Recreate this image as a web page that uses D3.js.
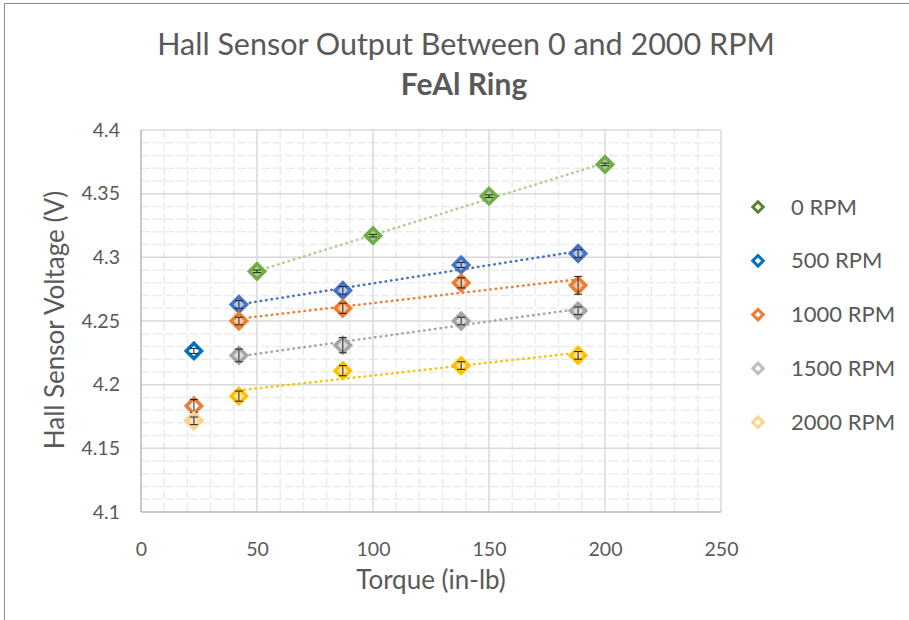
<!DOCTYPE html>
<html>
<head>
<meta charset="utf-8">
<script src="https://cdn.jsdelivr.net/npm/d3@7"></script>
<style>
  body { margin: 0; background: #fff; }
  svg text { font-family: Lato, "Open Sans", sans-serif; fill: #595959; }
</style>
</head>
<body>
<svg id="chart" width="909" height="620"></svg>
<script>
// Torque values (in-lb)
const torqueMain = [42.2, 87, 138, 188.4];
const torqueZero = [50, 100, 150, 200];
const torqueLow = 22.8;

// Hall sensor voltages
const rpm0 = [4.289, 4.317, 4.348, 4.373];
const rpm500 = [4.263, 4.274, 4.294, 4.303];
const rpm1000 = [4.250, 4.260, 4.280, 4.278];
const rpm1500 = [4.223, 4.231, 4.250, 4.258];
const rpm2000 = [4.191, 4.211, 4.215, 4.223];

// error bar half-heights
const err0 = [0.001, 0.001, 0.001, 0.001];
const err500 = [0.003, 0.003, 0.002, 0.003];
const err1000 = [0.003, 0.004, 0.004, 0.007];
const err1500 = [0.005, 0.006, 0.003, 0.003];
const err2000 = [0.004, 0.004, 0.003, 0.003];

// single low-torque readings (legend series)
const lowNames = ["0 RPM", "500 RPM", "1000 RPM", "1500 RPM", "2000 RPM"];
const lowValues = [null, 4.2265, 4.1833, 4.172, 4.1716];
const lowErrors = [0, 0.002, 0.005, 0.002, 0.003];

const xTicks = [0, 50, 100, 150, 200, 250];
const yTicks = [4.1, 4.15, 4.2, 4.25, 4.3, 4.35, 4.4];

const svg = d3.select("#chart");

// chart frame
svg.append("rect")
    .attr("x", 4.5).attr("y", 3.5)
    .attr("width", 920).attr("height", 640)
    .attr("fill", "none")
    .attr("stroke", "#8c8c8c");

const x = d3.scaleLinear().domain([0, 250]).range([141, 721]);
const y = d3.scaleLinear().domain([4.1, 4.4]).range([512, 130]);

// minor grid
svg.append("g").selectAll("line")
    .data(d3.range(0, 251, 10).filter(v => v % 50 !== 0))
    .join("line")
    .attr("x1", d => x(d)).attr("x2", d => x(d))
    .attr("y1", y(4.4)).attr("y2", y(4.1))
    .attr("stroke", "#ebebeb").attr("stroke-width", 1.5)
    .attr("stroke-dasharray", "9,3");

svg.append("g").selectAll("line")
    .data(d3.range(0, 31).map(i => 4.1 + i * 0.01).filter(v => Math.round(v * 100) % 5 !== 0))
    .join("line")
    .attr("x1", x(0)).attr("x2", x(250))
    .attr("y1", d => y(d)).attr("y2", d => y(d))
    .attr("stroke", "#ebebeb").attr("stroke-width", 1.5)
    .attr("stroke-dasharray", "9,3");

// major grid
svg.append("g").selectAll("line")
    .data(xTicks)
    .join("line")
    .attr("x1", d => x(d)).attr("x2", d => x(d))
    .attr("y1", y(4.4)).attr("y2", y(4.1))
    .attr("stroke", "#d9d9d9").attr("stroke-width", 1.5);

svg.append("g").selectAll("line")
    .data(yTicks)
    .join("line")
    .attr("x1", x(0)).attr("x2", x(250))
    .attr("y1", d => y(d)).attr("y2", d => y(d))
    .attr("stroke", "#d9d9d9").attr("stroke-width", 1.5);

// axis lines
svg.append("line")
    .attr("x1", x(0)).attr("x2", x(0)).attr("y1", y(4.4)).attr("y2", y(4.1))
    .attr("stroke", "#bfbfbf").attr("stroke-width", 1.5);
svg.append("line")
    .attr("x1", x(0)).attr("x2", x(250)).attr("y1", y(4.1)).attr("y2", y(4.1))
    .attr("stroke", "#bfbfbf").attr("stroke-width", 1.5);

// axes labels through d3 axes (no domain, no ticks)
const xAxis = svg.append("g")
    .attr("transform", `translate(0, ${y(4.1)})`)
    .call(d3.axisBottom(x).tickValues(xTicks).tickSize(0).tickPadding(30));
const yAxis = svg.append("g")
    .attr("transform", `translate(${x(0)}, 0)`)
    .call(d3.axisLeft(y).tickValues(yTicks).tickSize(0).tickPadding(21).tickFormat(d3.format("")));
[xAxis, yAxis].forEach(g => {
    g.select(".domain").remove();
    g.selectAll("text")
        .attr("font-family", "Lato, 'Open Sans', sans-serif")
        .attr("font-size", 19.5)
        .attr("fill", "#595959");
});

// titles
svg.append("text")
    .attr("x", 466).attr("y", 55)
    .attr("text-anchor", "middle")
    .attr("font-size", 30.5)
    .text("Hall Sensor Output Between 0 and 2000 RPM");
svg.append("text")
    .attr("x", 464).attr("y", 95)
    .attr("text-anchor", "middle")
    .attr("font-size", 30)
    .attr("font-weight", "bold")
    .text("FeAl Ring");

svg.append("text")
    .attr("x", 431).attr("y", 589)
    .attr("text-anchor", "middle")
    .attr("font-size", 26)
    .text("Torque (in-lb)");
svg.append("text")
    .attr("transform", "translate(64, 320) rotate(-90)")
    .attr("text-anchor", "middle")
    .attr("font-size", 26)
    .text("Hall Sensor Voltage (V)");

// series with trendlines
const series = [
    { xs: torqueZero, ys: rpm0, errs: err0, color: "#70ad47", fill: "#a9d18e", trend: "#a9d18e" },
    { xs: torqueMain, ys: rpm500, errs: err500, color: "#4472c4", fill: "#b4c7e7", trend: "#4472c4" },
    { xs: torqueMain, ys: rpm1000, errs: err1000, color: "#ed7d31", fill: "#f8cbad", trend: "#ed7d31" },
    { xs: torqueMain, ys: rpm1500, errs: err1500, color: "#a5a5a5", fill: "#dbdbdb", trend: "#a5a5a5" },
    { xs: torqueMain, ys: rpm2000, errs: err2000, color: "#ffc000", fill: "#ffe699", trend: "#ffc000" }
];

function linearFit(xs, ys) {
    const mx = d3.mean(xs), my = d3.mean(ys);
    const num = d3.sum(xs, (v, i) => (v - mx) * (ys[i] - my));
    const den = d3.sum(xs, v => (v - mx) * (v - mx));
    const b = num / den;
    return v => my + b * (v - mx);
}

const diamond = d3.symbol().type(d3.symbolDiamond2).size(150);

function drawPoint(g, px, py, err, stroke, fill) {
    g.append("path")
        .attr("transform", `translate(${x(px)}, ${y(py)})`)
        .attr("d", diamond())
        .attr("fill", fill)
        .attr("stroke", stroke)
        .attr("stroke-width", 3.5);
    if (err > 0) {
        g.append("line")
            .attr("x1", x(px)).attr("x2", x(px))
            .attr("y1", y(py - err)).attr("y2", y(py + err))
            .attr("stroke", "#222").attr("stroke-width", 1);
        [py - err, py + err].forEach(v => {
            g.append("line")
                .attr("x1", x(px) - 4).attr("x2", x(px) + 4)
                .attr("y1", y(v)).attr("y2", y(v))
                .attr("stroke", "#222").attr("stroke-width", 1);
        });
    }
}

const trendG = svg.append("g");
const pointG = svg.append("g");

series.forEach(s => {
    const fit = linearFit(s.xs, s.ys);
    const x0 = d3.min(s.xs), x1 = d3.max(s.xs);
    trendG.append("line")
        .attr("x1", x(x0)).attr("y1", y(fit(x0)))
        .attr("x2", x(x1)).attr("y2", y(fit(x1)))
        .attr("stroke", s.trend)
        .attr("stroke-width", 2.5)
        .attr("stroke-linecap", "round")
        .attr("stroke-dasharray", "0.5,5");
    s.xs.forEach((v, i) => drawPoint(pointG, v, s.ys[i], s.errs[i], s.color, s.fill));
});

// low torque points, also the legend series
const legendColors = ["#548235", "#0070c0", "#ed7d31", "#bfbfbf", "#ffd28a"];
lowValues.forEach((v, i) => {
    if (v !== null) drawPoint(pointG, torqueLow, v, lowErrors[i], legendColors[i], i === 4 ? "#f3e3c0" : "#fff");
});

// legend
const legend = svg.append("g");
lowNames.forEach((name, i) => {
    const ly = 207 + i * 53.8;
    legend.append("path")
        .attr("transform", `translate(758, ${ly})`)
        .attr("d", d3.symbol().type(d3.symbolDiamond2).size(70)())
        .attr("fill", "#fff")
        .attr("stroke", legendColors[i])
        .attr("stroke-width", 3);
    legend.append("text")
        .attr("x", 791).attr("y", ly + 7.5)
        .attr("font-size", 22)
        .text(name);
});
</script>
</body>
</html>
